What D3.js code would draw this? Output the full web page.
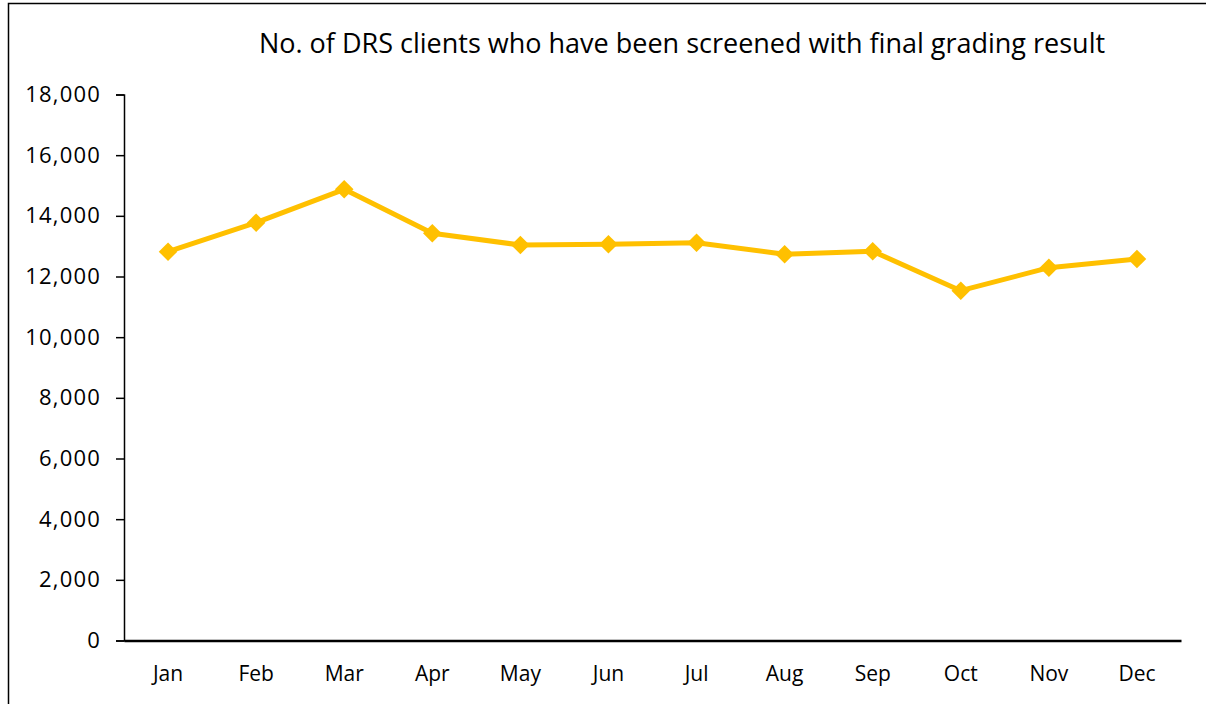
<!DOCTYPE html>
<html>
<head>
<meta charset="utf-8">
<script src="https://cdn.jsdelivr.net/npm/d3@7"></script>
<style>
  body { margin: 0; background: #fff; }
  text { font-family: "Open Sans", sans-serif; fill: #000; }
</style>
</head>
<body>
<div id="canvas"></div>
<script>
"use strict"

let svgWidth = 1206
let svgHeight = 704

/* data */
let months = ["Jan", "Feb", "Mar", "Apr", "May", "Jun", "Jul", "Aug", "Sep", "Oct", "Nov", "Dec"]
let clients = [12818, 13774, 14875, 13424, 13038, 13062, 13114, 12732, 12831, 11532, 12290, 12577]
let yTicks = [0, 2000, 4000, 6000, 8000, 10000, 12000, 14000, 16000, 18000]
let chartTitle = "No. of DRS clients who have been screened with final grading result"

let plotLeft = 124
let plotRight = 1181
let plotTop = 94.5
let plotBottom = 640.5

let svg = d3.select("#canvas")
    .append("svg")
    .attr("width", svgWidth)
    .attr("height", svgHeight)

/* outer frame */
svg.append("rect")
    .attr("x", 8.5)
    .attr("y", 3.5)
    .attr("width", svgWidth + 20)
    .attr("height", svgHeight + 20)
    .attr("fill", "none")
    .attr("stroke", "#000")
    .attr("stroke-width", 1.5)

/* scales */
let xScale = d3.scaleBand()
    .domain(months)
    .range([plotLeft, plotRight])

let yScale = d3.scaleLinear()
    .domain([0, 18000])
    .range([plotBottom, plotTop])

/* y axis */
let yAxis = d3.axisLeft(yScale)
    .tickValues(yTicks)
    .tickFormat(d3.format(","))
    .tickSize(8)
    .tickPadding(15)

let gy = svg.append("g")
    .attr("transform", "translate(" + plotLeft + ",0)")
    .call(yAxis)
gy.select(".domain").attr("stroke", "#000").attr("stroke-width", 1.5)
gy.selectAll(".tick line").attr("stroke", "#000").attr("stroke-width", 1.5)
gy.selectAll(".tick text")
    .style("font-size", "22px")
    .style("letter-spacing", "1.2px")
    .style("font-family", "'Open Sans', sans-serif")

/* x axis */
let xAxis = d3.axisBottom(xScale)
    .tickSize(0)
    .tickPadding(26)

let gx = svg.append("g")
    .attr("transform", "translate(0," + plotBottom + ")")
    .call(xAxis)
gx.select(".domain").attr("stroke", "#000").attr("stroke-width", 2.5)
gx.selectAll(".tick text")
    .style("font-size", "21px")
    .style("font-family", "'Open Sans', sans-serif")

/* line */
let points = months.map(function(m, i) {
    return {month: m, value: clients[i]}
})

let line = d3.line()
    .x(function(d) { return xScale(d.month) + xScale.bandwidth() / 2 })
    .y(function(d) { return yScale(d.value) })

svg.append("path")
    .datum(points)
    .attr("d", line)
    .attr("fill", "none")
    .attr("stroke", "#FFC000")
    .attr("stroke-width", 5)
    .attr("stroke-linejoin", "round")

/* diamond markers */
svg.selectAll("path.marker")
    .data(points)
    .join("path")
    .attr("class", "marker")
    .attr("d", d3.symbol().type(d3.symbolDiamond2).size(220))
    .attr("transform", function(d) {
        return "translate(" + (xScale(d.month) + xScale.bandwidth() / 2) + "," + yScale(d.value) + ")"
    })
    .attr("fill", "#FFC000")

/* title */
svg.append("text")
    .attr("x", 682)
    .attr("y", 53)
    .attr("text-anchor", "middle")
    .style("font-size", "27px")
    .text(chartTitle)
</script>
</body>
</html>
